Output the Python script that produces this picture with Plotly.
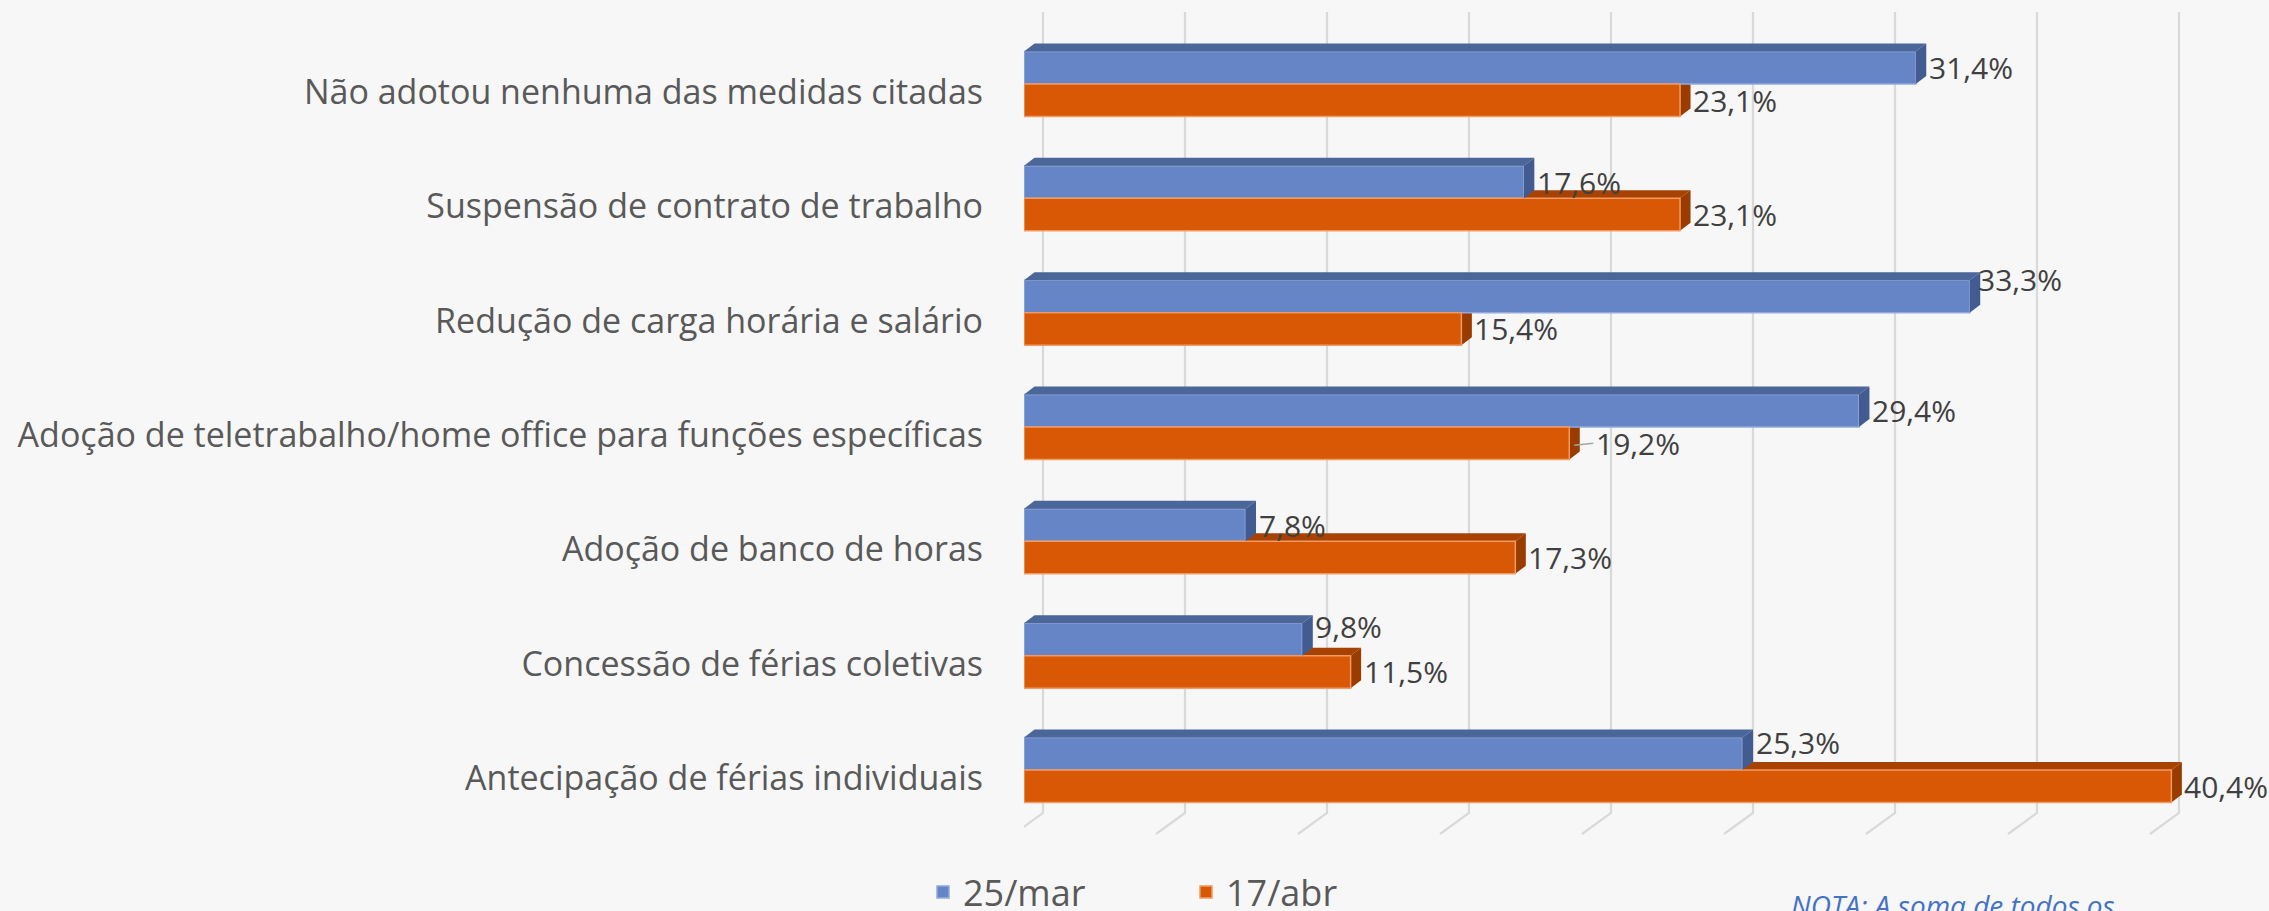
import plotly.graph_objects as go

# ---------------- data ----------------
categories = [
    "Não adotou nenhuma das medidas citadas",
    "Suspensão de contrato de trabalho",
    "Redução de carga horária e salário",
    "Adoção de teletrabalho/home office para funções específicas",
    "Adoção de banco de horas",
    "Concessão de férias coletivas",
    "Antecipação de férias individuais",
]
series_names = ["25/mar", "17/abr"]
values_mar = [31.4, 17.6, 33.3, 29.4, 7.8, 9.8, 25.3]
values_abr = [23.1, 23.1, 15.4, 19.2, 17.3, 11.5, 40.4]
grid_values = [0, 5, 10, 15, 20, 25, 30, 35, 40]
note_text = "NOTA: A soma de todos os"

# ---------------- layout constants (pixels) ----------------
W, H = 2269, 911
ML = 1024                      # front plane x=0
PX_X = 28.4                    # px per percentage point
PX_Y = 114.333                 # px per category step
Y_TOP = 6 + 84 / PX_Y
Y_BOT = Y_TOP - H / PX_Y
X_MAX = (W - ML) / PX_X
BAR_H = 32.5 / PX_Y
DX, DY = 10.5, 8.0             # 3D depth offset of bars
GRID_DX = 19                   # back wall offset

def ux(px):
    return px / PX_X

def uy(px):
    return px / PX_Y

def ypx(p):
    return Y_TOP - p / PX_Y

BLUE, BLUE_TOP, BLUE_SIDE, BLUE_EDGE = "#6685c7", "#4b6699", "#425c91", "#93a9db"
ORG, ORG_TOP, ORG_SIDE, ORG_EDGE = "#d95805", "#a84202", "#9a3c00", "#f19a63"

n = len(categories)
pos = [n - 1 - i for i in range(n)]

fig = go.Figure()
fig.add_trace(go.Bar(
    name=series_names[0], orientation="h", x=values_mar, y=pos,
    width=BAR_H, offset=0, marker=dict(color=BLUE, line=dict(color=BLUE_EDGE, width=1.5)),
    hoverinfo="x",
))
fig.add_trace(go.Bar(
    name=series_names[1], orientation="h", x=values_abr, y=pos,
    width=BAR_H, offset=-BAR_H, marker=dict(color=ORG, line=dict(color=ORG_EDGE, width=1.5)),
    hoverinfo="x",
))

shapes = []
# back wall gridlines with floor diagonals
for g in grid_values:
    xb = g + ux(GRID_DX)
    xf = g + ux(GRID_DX - 29)
    shapes.append(dict(
        type="path", xref="x", yref="y", layer="below",
        path=f"M {xb},{ypx(12)} L {xb},{ypx(813)} L {xf},{ypx(834)}",
        line=dict(color="#d9d9d9", width=2.2),
    ))

def poly(pts):
    return "M " + " L ".join(f"{a},{b}" for a, b in pts) + " Z"

ddx, ddy = ux(DX), uy(DY)
for p, vb, vo in zip(pos, values_mar, values_abr):
    # orange (behind blue)
    top = p
    bot = p - BAR_H
    shapes.append(dict(type="path", xref="x", yref="y", layer="between",
                       path=poly([(0, top), (ddx, top + ddy), (vo + ddx, top + ddy), (vo, top)]),
                       fillcolor=ORG_TOP, line=dict(width=0)))
    shapes.append(dict(type="path", xref="x", yref="y", layer="between",
                       path=poly([(vo, top), (vo + ddx, top + ddy), (vo + ddx, bot + ddy), (vo, bot)]),
                       fillcolor=ORG_SIDE, line=dict(width=0)))
    # blue
    top = p + BAR_H
    bot = p
    shapes.append(dict(type="path", xref="x", yref="y", layer="above",
                       path=poly([(0, top), (ddx, top + ddy), (vb + ddx, top + ddy), (vb, top)]),
                       fillcolor=BLUE_TOP, line=dict(width=0)))
    shapes.append(dict(type="path", xref="x", yref="y", layer="above",
                       path=poly([(vb, top), (vb + ddx, top + ddy), (vb + ddx, bot + ddy), (vb, bot)]),
                       fillcolor=BLUE_SIDE, line=dict(width=0)))

# data labels
label_nudge = {  # (series, category index): (xshift px, yshift px)
    (0, 2): (-5, 17),
    (0, 5): (0, 13),
    (0, 6): (0, 11),
    (1, 3): (14, 0),
}
annotations = []
for s, vals in enumerate([values_mar, values_abr]):
    for i, (p, v) in enumerate(zip(pos, vals)):
        yc = p + BAR_H / 2 if s == 0 else p - BAR_H / 2
        nx, ny = label_nudge.get((s, i), (0, 0))
        annotations.append(dict(
            x=v, y=yc, xref="x", yref="y", text=f"{v:.1f}%".replace(".", ","),
            showarrow=False, xanchor="left", yanchor="middle",
            xshift=DX + 1.5 + nx, yshift=ny, borderpad=0,
            font=dict(family="Open Sans", size=30, color="#404040"),
        ))
        if (s, i) == (1, 3):
            shapes.append(dict(type="line", xref="x", yref="y", layer="above",
                               x0=v + ux(5), y0=yc - uy(2), x1=v + ux(DX + 1.5 + nx - 2), y1=yc,
                               line=dict(color="#a6a6a6", width=1.5)))

annotations.append(dict(
    x=(1789 - ML) / (W - ML), y=(H - 884) / H, xref="paper", yref="paper",
    text=f"<i>{note_text}</i>", showarrow=False, xanchor="left", yanchor="top",
    font=dict(family="Open Sans", size=28, color="#4472c4"),
))

fig.update_layout(
    width=W, height=H,
    margin=dict(l=ML, r=0, t=0, b=0, autoexpand=False),
    paper_bgcolor="#f7f7f7", plot_bgcolor="#f7f7f7",
    barmode="overlay",
    showlegend=True,
    legend=dict(
        orientation="h", x=(923 - ML) / (W - ML), xanchor="left",
        y=(H - 892) / H, yanchor="middle",
        font=dict(family="Open Sans", size=36, color="#595959"),
        entrywidth=218, entrywidthmode="pixels",
        bgcolor="rgba(0,0,0,0)",
    ),
    xaxis=dict(range=[0, X_MAX], showgrid=False, zeroline=False,
               showticklabels=False, showline=False, fixedrange=True),
    yaxis=dict(range=[Y_BOT, Y_TOP], showgrid=False, zeroline=False, showline=False,
               tickmode="array", tickvals=[p - uy(8) for p in pos], ticktext=categories,
               ticks="", ticklabelstandoff=40,
               tickfont=dict(family="Open Sans", size=34, color="#595959"), fixedrange=True),
    shapes=shapes,
    annotations=annotations,
)

fig.write_html(
    "out.html",
    config={"displayModeBar": False},
    post_script="document.body.style.margin='0px';document.body.style.overflow='hidden';",
)
